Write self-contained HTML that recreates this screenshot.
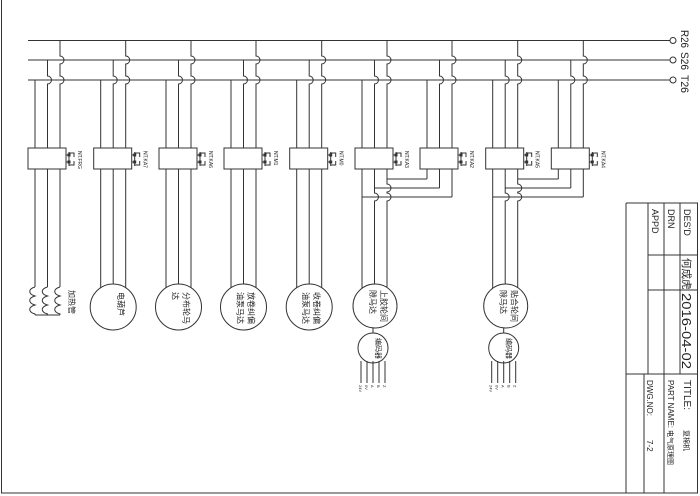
<!DOCTYPE html>
<html><head><meta charset="utf-8"><style>
html,body{margin:0;padding:0;background:#fff;}
svg{display:block;}
text{font-family:"Liberation Sans","Noto Sans CJK SC",sans-serif;fill:#222;}
</style></head><body>
<svg width="700" height="496" viewBox="0 0 700 496" xmlns="http://www.w3.org/2000/svg">
<g stroke="#333" stroke-width="1" fill="none">
<line x1="1.5" y1="0" x2="1.5" y2="493"/>
<line x1="1" y1="493" x2="698" y2="493"/>
<line x1="697.5" y1="203" x2="697.5" y2="493"/>
<line x1="28" y1="40.5" x2="670" y2="40.5"/>
<line x1="28" y1="60" x2="670" y2="60"/>
<line x1="28" y1="80" x2="670" y2="80"/>
<circle cx="673" cy="40.5" r="3"/>
<circle cx="673" cy="60" r="3"/>
<circle cx="673" cy="80" r="3"/>
<line x1="626" y1="203" x2="698" y2="203"/>
<line x1="626" y1="203" x2="626" y2="493"/>
<line x1="648" y1="203" x2="648" y2="374"/>
<line x1="664" y1="203" x2="664" y2="493"/>
<line x1="680" y1="203" x2="680" y2="374"/>
<line x1="648" y1="255" x2="698" y2="255"/>
<line x1="648" y1="290" x2="698" y2="290"/>
<line x1="626" y1="374" x2="698" y2="374"/>
<line x1="644" y1="374" x2="644" y2="493"/>
</g>
<g id="cols" stroke="#333" stroke-width="1" fill="none"></g>
<g id="labels"></g>
<g>
<text transform="translate(681,30) rotate(90)" font-size="11" textLength="18" lengthAdjust="spacingAndGlyphs">R26</text>
<text transform="translate(681,52) rotate(90)" font-size="11" textLength="18" lengthAdjust="spacingAndGlyphs">S26</text>
<text transform="translate(681,75) rotate(90)" font-size="11" textLength="18" lengthAdjust="spacingAndGlyphs">T26</text>
<text transform="translate(684,209) rotate(90)" font-size="9">DES'D</text>
<text transform="translate(668,209) rotate(90)" font-size="9">DRN</text>
<text transform="translate(652,209) rotate(90)" font-size="9">APPD</text>
<text transform="translate(683,258) rotate(90)" font-size="10.5">何成虎</text>
<text transform="translate(682,293) rotate(90)" font-size="13" textLength="76" lengthAdjust="spacingAndGlyphs">2016-04-02</text>
<text transform="translate(684,380) rotate(90)" font-size="10">TITLE:</text>
<text transform="translate(684,430) rotate(90)" font-size="7">复棉机</text>
<text transform="translate(668,380) rotate(90)" font-size="8">PART NAME:</text>
<text transform="translate(668,430) rotate(90)" font-size="7">电气原理图</text>
<text transform="translate(647,380) rotate(90)" font-size="8">DWG.NO:</text>
<text transform="translate(647,440) rotate(90)" font-size="8">7-2</text>
<text transform="translate(69,290) rotate(90)" font-size="8">加热管</text>
</g>
<script>
var L=[35,100.7,166,231,296.7,362,427,492.7,558.3];
var lab=["NT.FRG","NT.KA7","NT.KA6","NT.M1","NT.M0","NT.KA3","NT.KA2","NT.KA5","NT.KA4"];
var g=document.getElementById('cols'),tg=document.getElementById('labels');
var NS="http://www.w3.org/2000/svg";
function el(p,n,a){var e=document.createElementNS(NS,n);for(var k in a)e.setAttribute(k,a[k]);p.appendChild(e);return e;}
function vline(x,y0,y1,hops){var d="M"+x+" "+y0;hops.sort(function(a,b){return a-b});hops.forEach(function(h){d+=" L"+x+" "+(h-4)+" A4 4 0 0 1 "+x+" "+(h+4);});d+=" L"+x+" "+y1;el(g,"path",{d:d});}
function txt(x,y,s,fs){var t=el(tg,"text",{transform:"translate("+x+","+y+") rotate(90)","font-size":fs});t.textContent=s;return t;}
var motors={1:["电葫芦",""],2:["分布轮马","达"],3:["放卷纠偏","油泵马达"],4:["收卷纠偏","油泵马达"]};
L.forEach(function(x,i){
 var m=x+12.5,r=x+25,end;
 if(i==0)end=287;else end=290;
 if(i==6||i==8){
  vline(x,80,179,[]);vline(m,60,188,[80]);vline(r,40,197,[60,80]);
  var p=L[i-1];
  el(g,"line",{x1:p+25,y1:179,x2:x,y2:179});
  el(g,"line",{x1:p+12.5,y1:188,x2:m,y2:188});
  el(g,"line",{x1:p,y1:197,x2:r,y2:197});
 } else if(i==5||i==7){
  vline(x,80,end,[]);vline(m,60,end,[80,197]);vline(r,40,end,[60,80,188,197]);
 } else {
  vline(x,80,end,[]);vline(m,60,end,[80]);vline(r,40,end,[60,80]);
 }
 el(g,"rect",{x:x-7,y:148,width:38,height:21,fill:"#fff"});
 el(g,"path",{d:"M"+(x+31)+" 155 h3 M"+(x+31)+" 162 h3 M"+(x+34)+" 152 v14 M"+(x+34)+" 153 h5 v4 M"+(x+34)+" 165 h5 v-4"});
 el(g,"rect",{x:x+33,y:154,width:2,height:2,fill:"#333"});
 el(g,"rect",{x:x+33,y:161,width:2,height:2,fill:"#333"});
 txt(x+43,151,lab[i],5);
 if(i==0){
  [x,m,r].forEach(function(xx){el(g,"path",{d:"M"+xx+" 287 c-7 2 -7 7 0 9 c-7 2 -7 7 0 9 c-7 2 -7 7 0 9 l0 1"});});
  el(g,"line",{x1:x,y1:315,x2:r,y2:315});
 }
 if(i>=1&&i<=4){
  el(g,"circle",{cx:m,cy:307,r:23,fill:"#fff"});
  var t=motors[i];
  txt(m+5,292,t[0],8);
  if(t[1])txt(m-6,292,t[1],8);
 }
 if(i==5||i==7){
  var c=m+0.5;
  el(g,"circle",{cx:c,cy:306,r:22,fill:"#fff"});
  el(g,"line",{x1:c-2,y1:328,x2:c-2,y2:333});
  el(g,"circle",{cx:c-2,cy:348,r:15,fill:"#fff"});
  txt(c+6,290,i==5?"上胶轮间":"贴合轮间",8);
  txt(c-5,290,"隙马达",8);
  txt(c+1,338,"编码器",7);
  for(var k=0;k<5;k++){var xx=c-14+k*6;el(g,"line",{x1:xx,y1:361,x2:xx,y2:383});}
  var wl=["24V","0V","A","B","Z"];
  for(var k=0;k<5;k++){var t2=el(tg,"text",{transform:"translate("+(c-16+k*6)+",385) rotate(90)","font-size":4,fill:"#666"});t2.textContent=wl[k];}
 }
});
</script>
</svg>
</body></html>
